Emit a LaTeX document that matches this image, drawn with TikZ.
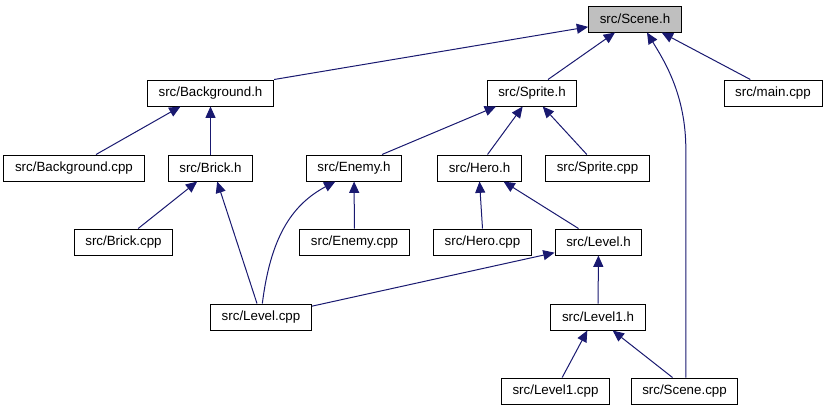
\documentclass[tikz,border=0pt]{standalone}
\usepackage{fontspec}
\setmainfont{Liberation Sans}
\usetikzlibrary{arrows.meta}
\definecolor{edgeblue}{HTML}{191970}
\definecolor{boxgray}{HTML}{BFBFBF}
\begin{document}
\begin{tikzpicture}[x=0.75pt, y=-0.75pt,
    file/.style={draw=black, line width=0.75pt, fill=white, minimum height=19.5pt,
        inner xsep=8.4pt, inner ysep=0pt, font=\fontsize{10}{12}\selectfont},
    dep/.style={draw=edgeblue, line width=0.75pt, -{Triangle[length=8.5pt, width=7.5pt]}}]
    \useasboundingbox (0,0) rectangle (827,411);

    % files, row by row
    \node[file, fill=boxgray] (sceneh) at (635,19) {src/Scene.h};

    \node[file] (bgh) at (210.5,93) {src/Background.h};
    \node[file] (sprh) at (532,93) {src/Sprite.h};
    \node[file] (mainc) at (773,93) {src/main.cpp};

    \node[file] (bgcpp) at (74,168) {src/Background.cpp};
    \node[file] (brickh) at (210.5,168) {src/Brick.h};
    \node[file] (enemyh) at (354,168) {src/Enemy.h};
    \node[file] (heroh) at (479.5,168) {src/Hero.h};
    \node[file] (sprcpp) at (597.5,168) {src/Sprite.cpp};

    \node[file] (brickcpp) at (123.5,242) {src/Brick.cpp};
    \node[file] (enemycpp) at (354.5,242) {src/Enemy.cpp};
    \node[file] (herocpp) at (482.5,242) {src/Hero.cpp};
    \node[file] (levelh) at (598.5,242) {src/Level.h};

    \node[file] (levelcpp) at (261,317) {src/Level.cpp};
    \node[file] (level1h) at (598,317) {src/Level1.h};

    \node[file] (level1cpp) at (555.5,391) {src/Level1.cpp};
    \node[file] (scenecpp) at (684.5,391) {src/Scene.cpp};

    % includes of src/Scene.h
    \draw[dep] (bgh.north east) -- (sceneh);
    \draw[dep] ([xshift=12pt]sprh.north) -- ([xshift=-15pt]sceneh.south);
    \draw[dep] ([xshift=-17pt]mainc.north) -- ([xshift=20pt]sceneh.south);
    \draw[dep] ([xshift=1pt]scenecpp.north) -- ++(0,-228)
        .. controls +(0,-55) and +(17,28) .. ([xshift=9pt]sceneh.south);

    % second row
    \draw[dep] ([xshift=16.5pt]bgcpp.north) -- ([xshift=-22.5pt]bgh.south);
    \draw[dep] (brickh) -- (bgh);
    \draw[dep] ([xshift=21pt]enemyh.north) -- ([xshift=-27pt]sprh.south);
    \draw[dep] ([xshift=6pt]heroh.north) -- ([xshift=-7pt]sprh.south);
    \draw[dep] ([xshift=-8pt]sprcpp.north) -- ([xshift=8pt]sprh.south);

    % third row
    \draw[dep] ([xshift=11pt]brickcpp.north) -- ([xshift=-10pt]brickh.south);
    \draw[dep] ([xshift=-3pt]levelcpp.north) -- ([xshift=5pt]brickh.south);
    \draw[dep] ([xshift=1pt]levelcpp.north)
        .. controls +(8,-64) and +(-45,24) .. ([xshift=-14pt]enemyh.south);
    \draw[dep] (enemycpp) -- (enemyh);
    \draw[dep] (herocpp.north) -- (heroh.south);
    \draw[dep] ([xshift=-15pt]levelh.north) -- ([xshift=18pt]heroh.south);

    % level files
    \draw[dep] ([yshift=-2pt]levelcpp.north east) -- ([yshift=-8pt]levelh.west);
    \draw[dep] (level1h) -- (levelh);
    \draw[dep] ([xshift=5pt]level1cpp.north) -- ([xshift=-8pt]level1h.south);
    \draw[dep] ([xshift=-9pt]scenecpp.north) -- ([xshift=11pt]level1h.south);
\end{tikzpicture}
\end{document}
